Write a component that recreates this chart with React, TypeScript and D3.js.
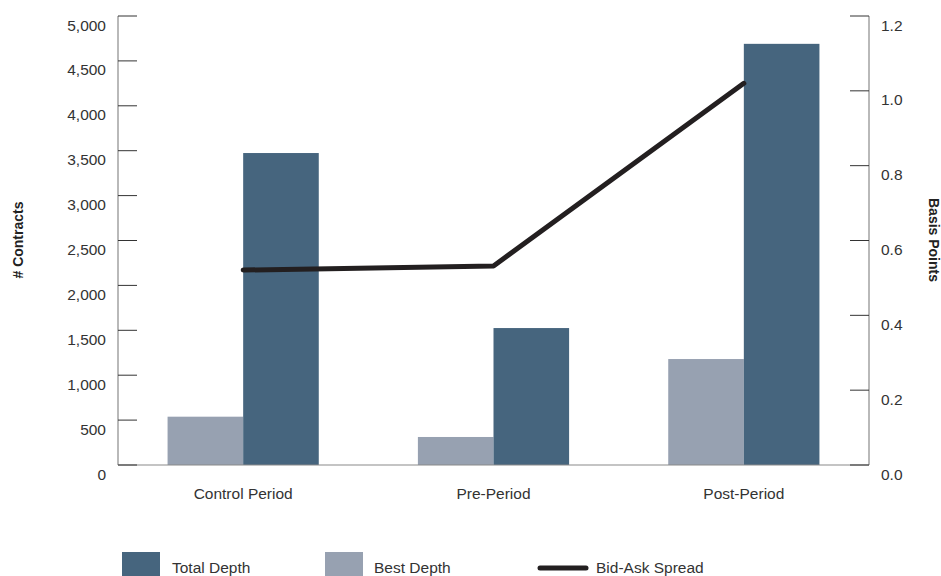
import React from "react";
import * as d3 from "d3";

const categories = ["Control Period", "Pre-Period", "Post-Period"];
const totalDepth = [3474, 1525, 4690];
const bestDepth = [538, 312, 1180];
const bidAskSpread = [0.521, 0.532, 1.02];
const leftTicks = [0, 500, 1000, 1500, 2000, 2500, 3000, 3500, 4000, 4500, 5000];
const rightTicks = [0, 0.2, 0.4, 0.6, 0.8, 1.0, 1.2];

const W = 941;
const H = 576;
const x0 = 118;
const x1 = 869;
const yTop = 16;
const yBot = 465;
const FONT = "'Liberation Sans', Arial, Helvetica, sans-serif";
const C_TOTAL = "#46657e";
const C_BEST = "#97a1b1";
const C_LINE = "#231f20";
const C_TEXT = "#333333";

export default function App() {
  const xBand = d3.scaleBand<string>().domain(categories).range([x0, x1]).padding(0);
  const barW = xBand.bandwidth() * 0.302;
  const yL = d3.scaleLinear().domain([0, 5000]).range([yBot, yTop]);
  const yR = d3.scaleLinear().domain([0, 1.2]).range([yBot, yTop]);
  const fmtL = d3.format(",");
  const fmtR = d3.format(".1f");
  const center = (c: string) => (xBand(c) as number) + xBand.bandwidth() / 2;

  const line = d3
    .line<number>()
    .x((_, i) => center(categories[i]))
    .y((d) => yR(d));

  return (
    <svg width={W} height={H} style={{ position: "absolute", left: 0, top: 0, background: "#fff" }}>
      {/* bars */}
      {categories.map((c, i) => (
        <g key={c}>
          <rect x={center(c) - barW} y={yL(bestDepth[i])} width={barW} height={yBot - yL(bestDepth[i])} fill={C_BEST} />
          <rect x={center(c)} y={yL(totalDepth[i])} width={barW} height={yBot - yL(totalDepth[i])} fill={C_TOTAL} />
        </g>
      ))}

      {/* axes */}
      <line x1={x0} x2={x0} y1={yTop} y2={yBot} stroke="#8a8a8a" strokeWidth={1.2} />
      <line x1={x1} x2={x1} y1={yTop} y2={yBot} stroke="#8a8a8a" strokeWidth={1.2} />
      <line x1={x0} x2={x1} y1={yBot} y2={yBot} stroke="#8a8a8a" strokeWidth={1.2} />
      {leftTicks.map((t) => (
        <g key={"l" + t}>
          <line x1={x0} x2={x0 + 19} y1={yL(t)} y2={yL(t)} stroke={C_TEXT} strokeWidth={1} />
          <text x={106} y={yL(t) + 9} textAnchor="end" dominantBaseline="central" fontFamily={FONT} fontSize={15.5} fill={C_TEXT}>
            {fmtL(t)}
          </text>
        </g>
      ))}
      {rightTicks.map((t) => (
        <g key={"r" + t}>
          <line x1={x1 - 19} x2={x1} y1={yR(t)} y2={yR(t)} stroke={C_TEXT} strokeWidth={1} />
          <text x={881} y={yR(t) + 9} textAnchor="start" dominantBaseline="central" fontFamily={FONT} fontSize={15.5} fill={C_TEXT}>
            {fmtR(t)}
          </text>
        </g>
      ))}
      {categories.map((c) => (
        <text key={"c" + c} x={center(c)} y={499} textAnchor="middle" fontFamily={FONT} fontSize={15.5} fill={C_TEXT}>
          {c}
        </text>
      ))}

      {/* axis titles */}
      <text transform={`translate(18,240) rotate(-90)`} textAnchor="middle" dominantBaseline="central" fontFamily={FONT} fontSize={14} fontWeight="bold" fill="#222">
        # Contracts
      </text>
      <text transform={`translate(934,240) rotate(90)`} textAnchor="middle" dominantBaseline="central" fontFamily={FONT} fontSize={14} fontWeight="bold" fill="#222">
        Basis Points
      </text>

      {/* spread line */}
      <path d={line(bidAskSpread) || ""} fill="none" stroke={C_LINE} strokeWidth={5} strokeLinejoin="round" strokeLinecap="round" />

      {/* legend */}
      <rect x={122} y={552} width={38} height={30} fill={C_TOTAL} />
      <text x={172} y={573} fontFamily={FONT} fontSize={15.5} fill={C_TEXT}>Total Depth</text>
      <rect x={325} y={552} width={38} height={30} fill={C_BEST} />
      <text x={374} y={573} fontFamily={FONT} fontSize={15.5} fill={C_TEXT}>Best Depth</text>
      <line x1={540} x2={586} y1={568} y2={568} stroke={C_LINE} strokeWidth={5} strokeLinecap="round" />
      <text x={596} y={573} fontFamily={FONT} fontSize={15.5} fill={C_TEXT}>Bid-Ask Spread</text>
    </svg>
  );
}
